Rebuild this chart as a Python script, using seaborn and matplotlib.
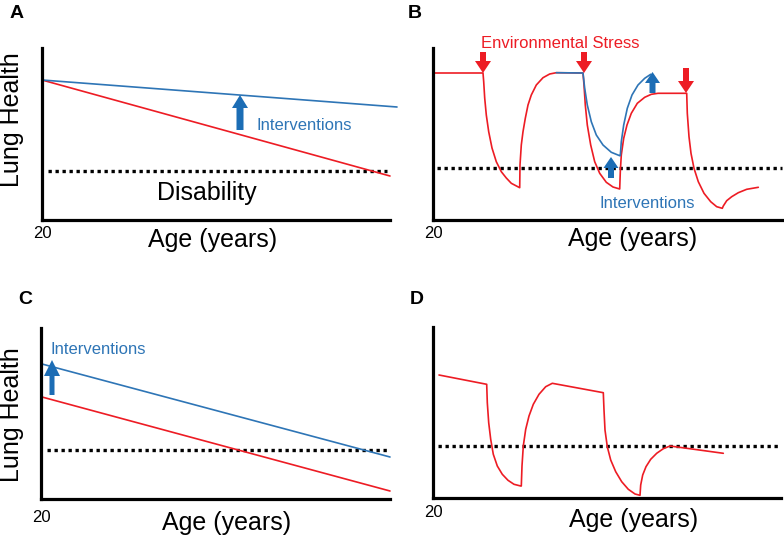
import matplotlib
matplotlib.use("Agg")
import matplotlib.pyplot as plt
import seaborn as sns

# schematic data, units = reference pixels from each panel's origin
a_blue_x = [0, 355]
a_blue_y = [140, 113]
a_red_x = [0, 348]
a_red_y = [140, 44]

b_red_x = [2, 50, 50.7, 51.7, 53.3, 55.7, 59, 63.3, 68.3, 73.3, 78.3, 86.7,
           87, 88.3, 90, 92.3, 95, 98.3, 103.3, 110, 116.7, 123.3,
           150, 151, 152.3, 154.3, 157.7, 161.7, 166.7, 173.3, 180, 186.7,
           187.3, 188.3, 190.7, 194, 198.3, 204.3, 211.7, 218.3, 225,
           253.7, 254.3, 256, 258, 261, 265.3, 271, 277.7, 283.7, 289.3,
           290.3, 293.7, 298.7, 305.3, 313.7, 325.3]
b_red_y = [147, 147, 138.3, 122, 105, 88.3, 72, 58.3, 48.3, 42, 36.7, 32.3,
           55, 75, 88.3, 101.7, 115, 125, 135, 142.3, 146, 147.3,
           147, 135, 115, 95, 75, 58.3, 46.7, 37.7, 33, 31,
           48.3, 65, 81.7, 95, 106.7, 116.7, 122.7, 125.7, 126.7,
           126.7, 106.7, 83.3, 66.7, 51.7, 38.3, 26.7, 18.3, 13.3, 11.7,
           14, 19.3, 23.3, 27.3, 30.7, 32.7]
b_blue_x = [123.3, 150, 151.7, 154.3, 158.3, 163.3, 170, 178.3, 186.7,
            187.3, 188.3, 190.7, 194.3, 199, 205, 211.7, 217.7]
b_blue_y = [147.3, 147, 131.7, 115, 98.3, 85, 75, 67.7, 64.3,
            64.3, 78.3, 95, 111.7, 125, 135, 141.7, 145.7]

c_blue_x = [1, 349]
c_blue_y = [135, 42]
c_red_x = [1, 349]
c_red_y = [102, 8]

d_red_x = [6, 53.7, 54.3, 55.7, 57.7, 60.3, 64.3, 69.3, 75, 81, 87.7,
           88.3, 89, 90.3, 92.7, 96, 100.3, 106, 112.7, 119.3,
           170.3, 171, 172, 174.3, 177.7, 182.7, 188.7, 195.3, 202, 207,
           207.7, 209.7, 213, 217.7, 223.7, 230.3, 237, 290.3]
d_red_y = [123, 113.7, 95.3, 75.3, 58.7, 43.7, 32, 23.7, 17.7, 13.7, 12,
           12, 32, 52, 68.7, 82, 93.7, 103.7, 111.3, 114.7,
           105.3, 88, 68, 51.3, 38, 26.3, 16.3, 8.7, 4, 2.7,
           13, 23, 31.3, 38.7, 44.7, 49.3, 52, 44.7]

disability_level = [49, 52, 49, 52]

# arrows: (x, tail y, tip y)
a_arrows = [(198, 90, 125)]
b_red_arrows = [(50, 168, 147), (151, 168, 147), (253, 152, 127)]
b_blue_arrows = [(178, 42, 63), (219.5, 127, 148)]
c_arrows = [(11, 104, 139)]

RED = "#ED1C24"
BLUE = "#2E75B6"
ARROW_BLUE = "#1C6DB5"

sns.set_theme(style="white")
plt.rcParams["font.family"] = ["Liberation Sans", "DejaVu Sans"]
plt.rcParams["text.color"] = "black"
plt.rcParams["axes.labelcolor"] = "black"
plt.rcParams["xtick.color"] = "black"

W, H = 784, 535
fig = plt.figure(figsize=(W / 100, H / 100), dpi=100)


def make_axes(left, bottom, width, height):
    ax = fig.add_axes([left / W, 1 - bottom / H, width / W, height / H])
    ax.set_xlim(0, width)
    ax.set_ylim(0, height)
    for s in ["top", "right"]:
        ax.spines[s].set_visible(False)
    for s in ["left", "bottom"]:
        ax.spines[s].set_color("black")
        ax.spines[s].set_linewidth(2.3)
    ax.set_yticks([])
    ax.tick_params(axis="x", length=0, labelsize=12)
    ax.set_xticks([0], ["20"])
    return ax


def curve(ax, x, y, color):
    sns.lineplot(x=x, y=y, ax=ax, sort=False, estimator=None, color=color, lw=1.2, clip_on=False)


def dotted(ax, x0, x1, y):
    ax.plot([x0, x1], [y, y], color="black", lw=2.4, ls=(0, (1, 1.1)), clip_on=False)


def arrow(ax, spec, color, w, hw, hl):
    x, y0, y1 = spec
    ax.arrow(x, y0, 0, y1 - y0, width=w, head_width=hw, head_length=hl,
             length_includes_head=True, color=color, lw=0, clip_on=False, zorder=5)


def age_label(ax, xf, yf):
    ax.set_xlabel("Age (years)", fontsize=18, va="center", visible=True)
    ax.xaxis.set_label_coords(xf, yf)


def lung_label(ax, xf, yf):
    ax.set_ylabel("Lung Health", fontsize=18, va="center", visible=True)
    ax.yaxis.set_label_coords(xf, yf)


# panel A
ax_a = make_axes(42, 220, 348, 172)
dotted(ax_a, 6, 345, disability_level[0])
curve(ax_a, a_red_x, a_red_y, RED)
curve(ax_a, a_blue_x, a_blue_y, BLUE)
for sp in a_arrows:
    arrow(ax_a, sp, ARROW_BLUE, 7, 16, 13)
ax_a.text(215, 95, "Interventions", color=BLUE, fontsize=12, va="center")
ax_a.text(165, 27, "Disability", color="black", fontsize=18, ha="center", va="center")
ax_a.tick_params(axis="x", pad=4)
age_label(ax_a, 0.489, -0.116)
lung_label(ax_a, -0.086, 0.581)

# panel B
ax_b = make_axes(433, 220, 349, 172)
dotted(ax_b, 4, 349, disability_level[1])
curve(ax_b, b_red_x, b_red_y, RED)
curve(ax_b, b_blue_x, b_blue_y, BLUE)
for sp in b_red_arrows:
    arrow(ax_b, sp, RED, 6, 16, 12)
for sp in b_blue_arrows:
    arrow(ax_b, sp, ARROW_BLUE, 6, 15, 11)
ax_b.text(127, 177, "Environmental Stress", color=RED, fontsize=12, ha="center", va="center")
ax_b.text(214, 17, "Interventions", color=BLUE, fontsize=12, ha="center", va="center")
ax_b.tick_params(axis="x", pad=4)
age_label(ax_b, 0.573, -0.110)

# panel C
ax_c = make_axes(41, 499, 349, 171)
dotted(ax_c, 6, 349, disability_level[2])
curve(ax_c, c_red_x, c_red_y, RED)
curve(ax_c, c_blue_x, c_blue_y, BLUE)
for sp in c_arrows:
    arrow(ax_c, sp, ARROW_BLUE, 5, 16, 16)
ax_c.text(9, 150, "Interventions", color=BLUE, fontsize=12, va="center")
ax_c.tick_params(axis="x", pad=8)
age_label(ax_c, 0.533, -0.140)
lung_label(ax_c, -0.083, 0.491)

# panel D
ax_d = make_axes(433, 498, 348, 171)
dotted(ax_d, 5, 348, disability_level[3])
curve(ax_d, d_red_x, d_red_y, RED)
ax_d.tick_params(axis="x", pad=5)
age_label(ax_d, 0.575, -0.129)

for letter, px, py in [("A", 17, 13), ("B", 415, 13), ("C", 25, 299), ("D", 417, 299)]:
    fig.text(px / W, 1 - py / H, letter, fontsize=14, fontweight="bold", ha="center", va="center")

fig.savefig("out.png", dpi=100)
